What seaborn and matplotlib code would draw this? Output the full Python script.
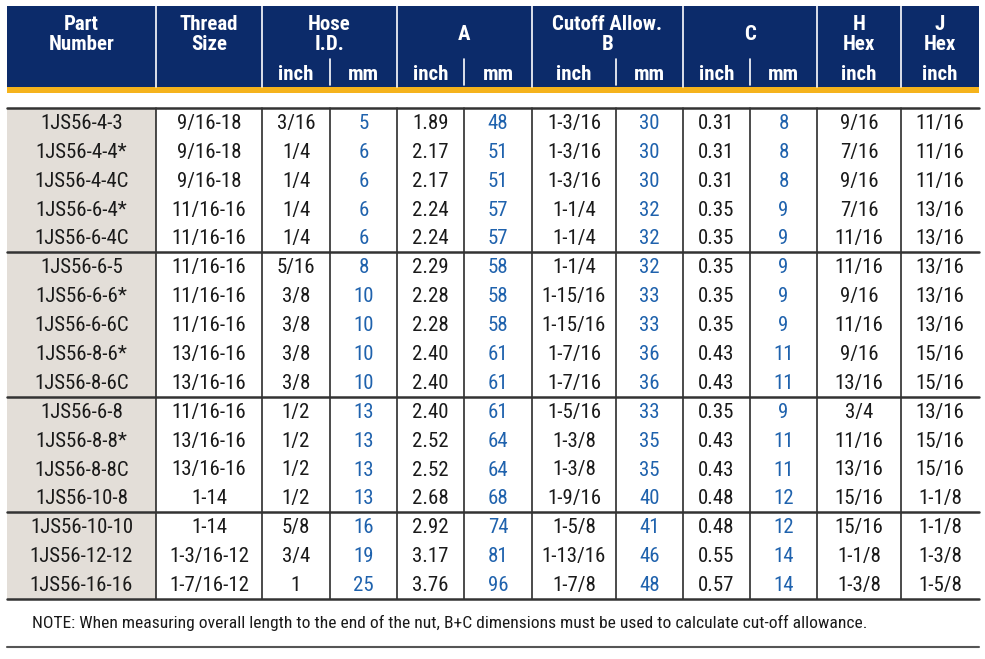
import matplotlib
matplotlib.use("Agg")
import matplotlib.pyplot as plt
import seaborn as sns
import pandas as pd

# table values, one list per column
part_number = ["1JS56-4-3", "1JS56-4-4*", "1JS56-4-4C", "1JS56-6-4*", "1JS56-6-4C",
               "1JS56-6-5", "1JS56-6-6*", "1JS56-6-6C", "1JS56-8-6*", "1JS56-8-6C",
               "1JS56-6-8", "1JS56-8-8*", "1JS56-8-8C", "1JS56-10-8",
               "1JS56-10-10", "1JS56-12-12", "1JS56-16-16"]
thread_size = ["9/16-18", "9/16-18", "9/16-18", "11/16-16", "11/16-16",
               "11/16-16", "11/16-16", "11/16-16", "13/16-16", "13/16-16",
               "11/16-16", "13/16-16", "13/16-16", "1-14",
               "1-14", "1-3/16-12", "1-7/16-12"]
hose_inch = ["3/16", "1/4", "1/4", "1/4", "1/4",
             "5/16", "3/8", "3/8", "3/8", "3/8",
             "1/2", "1/2", "1/2", "1/2",
             "5/8", "3/4", "1"]
hose_mm = [5, 6, 6, 6, 6, 8, 10, 10, 10, 10, 13, 13, 13, 13, 16, 19, 25]
a_inch = ["1.89", "2.17", "2.17", "2.24", "2.24",
          "2.29", "2.28", "2.28", "2.40", "2.40",
          "2.40", "2.52", "2.52", "2.68",
          "2.92", "3.17", "3.76"]
a_mm = [48, 51, 51, 57, 57, 58, 58, 58, 61, 61, 61, 64, 64, 68, 74, 81, 96]
b_inch = ["1-3/16", "1-3/16", "1-3/16", "1-1/4", "1-1/4",
          "1-1/4", "1-15/16", "1-15/16", "1-7/16", "1-7/16",
          "1-5/16", "1-3/8", "1-3/8", "1-9/16",
          "1-5/8", "1-13/16", "1-7/8"]
b_mm = [30, 30, 30, 32, 32, 32, 33, 33, 36, 36, 33, 35, 35, 40, 41, 46, 48]
c_inch = ["0.31", "0.31", "0.31", "0.35", "0.35",
          "0.35", "0.35", "0.35", "0.43", "0.43",
          "0.35", "0.43", "0.43", "0.48",
          "0.48", "0.55", "0.57"]
c_mm = [8, 8, 8, 9, 9, 9, 9, 9, 11, 11, 9, 11, 11, 12, 12, 14, 14]
h_hex = ["9/16", "7/16", "9/16", "7/16", "11/16",
         "11/16", "9/16", "11/16", "9/16", "13/16",
         "3/4", "11/16", "13/16", "15/16",
         "15/16", "1-1/8", "1-3/8"]
j_hex = ["11/16", "11/16", "11/16", "13/16", "13/16",
         "13/16", "13/16", "13/16", "15/16", "15/16",
         "13/16", "15/16", "15/16", "1-1/8",
         "1-1/8", "1-3/8", "1-5/8"]
group_ends = [5, 10, 14, 17]

main_headers = ["Part\nNumber", "Thread\nSize", "Hose\nI.D.", "A",
                "Cutoff Allow.\nB", "C", "H\nHex", "J\nHex"]
main_spans = [1, 1, 2, 2, 2, 2, 1, 1]
sub_headers = ["", "", "inch", "mm", "inch", "mm", "inch", "mm",
               "inch", "mm", "inch", "inch"]
note = ("NOTE: When measuring overall length to the end of the nut, "
        "B+C dimensions must be used to calculate cut-off allowance.")

df = pd.DataFrame({
    "part": part_number, "thread": thread_size, "hose_in": hose_inch,
    "hose_mm": hose_mm, "a_in": a_inch, "a_mm": a_mm, "b_in": b_inch,
    "b_mm": b_mm, "c_in": c_inch, "c_mm": c_mm, "h": h_hex, "j": j_hex,
})
mm_cols = {"hose_mm", "a_mm", "b_mm", "c_mm"}

# layout (pixels)
col_edges = [7, 156, 262, 330, 397, 464, 532, 616, 683, 750, 817, 901, 979]
head_top, head_mid, head_bot, gold_bot = 6, 59, 87, 93
body_top, row_h = 108, 28.88

NAVY = "#0c2b6a"
GOLD = "#f5b31c"
GRAY = "#e3ded8"
BLUE = "#1f62ad"
INK = "#1a1a1a"

sns.set_theme(style="white")
plt.rcParams["font.family"] = ["Roboto Condensed", "Barlow Semi Condensed", "DejaVu Sans"]

fig = plt.figure(figsize=(9.85, 6.59), dpi=100)
ax = fig.add_axes([0, 0, 1, 1])
ax.set_xlim(0, 985)
ax.set_ylim(659, 0)
ax.axis("off")

x0, x1 = col_edges[0], col_edges[-1]

# header block
ax.add_patch(plt.Rectangle((x0, head_top), x1 - x0, head_bot - head_top, color=NAVY, lw=0))
ax.add_patch(plt.Rectangle((x0, head_bot), x1 - x0, gold_bot - head_bot, color=GOLD, lw=0))

ci = 0
for label, span in zip(main_headers, main_spans):
    left, right = col_edges[ci], col_edges[ci + span]
    if ci > 0:
        ax.plot([left, left], [head_top, head_bot], color="white", lw=1.2)
    if span == 2:
        mid = col_edges[ci + 1]
        ax.plot([mid, mid], [head_mid, head_bot - 2], color="white", lw=1.2)
    ax.text((left + right) / 2, (head_top + head_mid) / 2 + 2, label, ha="center",
            va="center", color="white", fontsize=15, fontweight="bold",
            linespacing=1.12)
    ci += span

for i, s in enumerate(sub_headers):
    if s:
        ax.text((col_edges[i] + col_edges[i + 1]) / 2, (head_mid + head_bot) / 2 + 2, s,
                ha="center", va="center", color="white", fontsize=15,
                fontweight="bold")

# body
n = len(df)
body_bot = body_top + n * row_h
ax.add_patch(plt.Rectangle((x0, body_top), col_edges[1] - x0, body_bot - body_top,
                           color=GRAY, lw=0))
for xe in col_edges[1:-1]:
    ax.plot([xe, xe], [body_top, body_bot], color=INK, lw=1.1)
ax.plot([x0, x1], [body_top, body_top], color="#333333", lw=1.8)
for g in group_ends:
    y = body_top + g * row_h
    ax.plot([x0, x1], [y, y], color="#333333", lw=1.8)

for r in range(n):
    yc = body_top + (r + 0.5) * row_h + 1
    for c, name in enumerate(df.columns):
        xc = (col_edges[c] + col_edges[c + 1]) / 2
        ax.text(xc, yc, str(df.iloc[r, c]), ha="center", va="center",
                fontsize=15, color=BLUE if name in mm_cols else INK)

ax.text(32, 623, note, ha="left", va="center", fontsize=12.6, color=INK)
ax.plot([x0, x1], [647, 647], color="#555555", lw=1.5)

fig.savefig("out.png", dpi=100)
